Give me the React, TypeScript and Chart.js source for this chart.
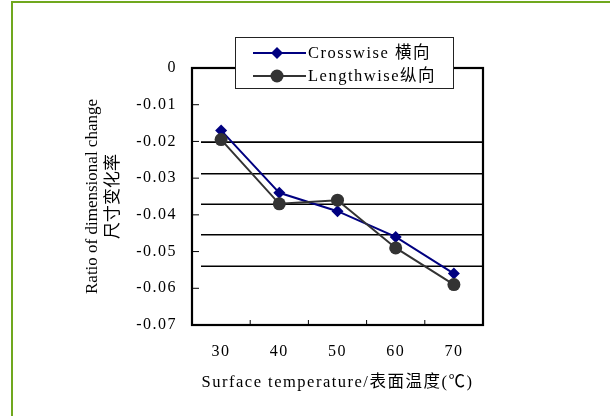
import { useEffect, useRef } from 'react';
import { Chart, registerables } from 'chart.js';

Chart.register(...registerables);

const categories = ['30', '40', '50', '60', '70'];
const crosswise = [-0.017, -0.034, -0.039, -0.046, -0.056];
const lengthwise = [-0.0195, -0.037, -0.036, -0.049, -0.059];
const yTickValues = [0, -0.01, -0.02, -0.03, -0.04, -0.05, -0.06, -0.07];
const gridValues = [-0.0202, -0.0288, -0.0371, -0.0454, -0.054];
const seriesLabels = ['Crosswise 横向', 'Lengthwise纵向'];
const xTitle = 'Surface temperature/表面温度(℃)';
const yTitle = ['Ratio of dimensional change', '尺寸变化率'];

const FONT = '"Liberation Serif", "Noto Sans CJK SC", serif';
const SPACING = '1.5px';

function seg(ctx: CanvasRenderingContext2D, x1: number, y1: number, x2: number, y2: number) {
  ctx.beginPath();
  ctx.moveTo(x1, y1);
  ctx.lineTo(x2, y2);
  ctx.stroke();
}

const framePlugin = {
  id: 'frame',
  beforeUpdate(chart: any) {
    chart.ctx.letterSpacing = SPACING;
  },
  beforeLayout(chart: any) {
    chart.ctx.letterSpacing = SPACING;
  },
  afterLayout(chart: any) {
    const s = chart.scales.y;
    if (s && !s.__patched) {
      const orig = s.drawTitle.bind(s);
      s.drawTitle = () => {
        const ctx = chart.ctx;
        ctx.save();
        ctx.letterSpacing = '0px';
        orig();
        ctx.restore();
      };
      s.__patched = true;
    }
  },
  beforeDraw(chart: any) {
    chart.ctx.letterSpacing = SPACING;
  },
  beforeDatasetsDraw(chart: any) {
    const { ctx, chartArea: a, scales } = chart;
    const x = scales.x;
    const y = scales.y;
    ctx.save();
    ctx.strokeStyle = '#000';
    ctx.lineWidth = 1.6;
    gridValues.forEach((v) => {
      const py = y.getPixelForValue(v);
      seg(ctx, a.left + 9, py, a.right, py);
    });
    ctx.lineWidth = 1;
    yTickValues.forEach((v) => {
      const py = y.getPixelForValue(v);
      seg(ctx, a.left, py, a.left + 7, py);
    });
    for (let i = 0; i < categories.length - 1; i++) {
      const px = (x.getPixelForValue(i) + x.getPixelForValue(i + 1)) / 2;
      seg(ctx, px, a.bottom, px, a.bottom - 5);
    }
    ctx.lineWidth = 2.2;
    ctx.strokeRect(a.left, a.top, a.right - a.left, a.bottom - a.top);
    ctx.restore();
  },
  afterDraw(chart: any) {
    const { ctx, chartArea: a } = chart;
    ctx.save();
    ctx.letterSpacing = SPACING;
    const w = 218;
    const h = 51;
    const bx = Math.round((a.left + a.right) / 2 + 6 - w / 2);
    const by = Math.round(a.top - 31);
    ctx.fillStyle = '#fff';
    ctx.fillRect(bx, by, w, h);
    ctx.strokeStyle = '#222';
    ctx.lineWidth = 1;
    ctx.strokeRect(bx + 0.5, by + 0.5, w, h);
    chart.data.datasets.forEach((ds: any, i: number) => {
      const cy = by + 16 + i * 23;
      ctx.strokeStyle = ds.borderColor;
      ctx.lineWidth = 2;
      seg(ctx, bx + 18, cy, bx + 71, cy);
      ctx.fillStyle = ds.pointBackgroundColor;
      const mx = bx + 42;
      const r = ds.pointRadius;
      ctx.beginPath();
      if (ds.pointStyle === 'rectRot') {
        ctx.moveTo(mx - r, cy);
        ctx.lineTo(mx, cy - r);
        ctx.lineTo(mx + r, cy);
        ctx.lineTo(mx, cy + r);
        ctx.closePath();
      } else {
        ctx.arc(mx, cy, r, 0, Math.PI * 2);
      }
      ctx.fill();
      ctx.fillStyle = '#000';
      ctx.font = `16.5px ${FONT}`;
      ctx.textAlign = 'left';
      ctx.textBaseline = 'middle';
      ctx.fillText(ds.label, bx + 73, cy + 1);
    });
    ctx.restore();
  },
};

export default function App() {
  const ref = useRef<HTMLCanvasElement | null>(null);

  useEffect(() => {
    document.body.style.margin = '0';
    const canvas = ref.current;
    if (!canvas) return;
    Chart.defaults.font.family = FONT;
    Chart.defaults.color = '#000';
    const chart = new Chart(canvas, {
      type: 'line',
      data: {
        labels: categories,
        datasets: [
          {
            label: seriesLabels[0],
            data: crosswise,
            borderColor: '#000080',
            backgroundColor: '#000080',
            pointBackgroundColor: '#000080',
            pointBorderColor: '#000080',
            pointStyle: 'rectRot',
            pointRadius: 6,
            pointBorderWidth: 0,
            borderWidth: 2,
            tension: 0,
            order: 1,
          },
          {
            label: seriesLabels[1],
            data: lengthwise,
            borderColor: '#333333',
            backgroundColor: '#333333',
            pointBackgroundColor: '#333333',
            pointBorderColor: '#333333',
            pointStyle: 'circle',
            pointRadius: 6.5,
            pointBorderWidth: 0,
            borderWidth: 2,
            tension: 0,
            order: 0,
          },
        ],
      },
      options: {
        responsive: false,
        animation: false,
        devicePixelRatio: 1,
        layout: { padding: { left: 70, right: 127, top: 68, bottom: 11 } },
        plugins: {
          legend: { display: false },
          tooltip: { enabled: false },
        },
        scales: {
          x: {
            type: 'category',
            offset: true,
            grid: { display: false, drawTicks: false, offset: true },
            border: { display: false },
            ticks: { padding: 17, font: { size: 16 }, color: '#000', maxRotation: 0 },
            title: {
              display: true,
              text: xTitle,
              font: { size: 16.5, lineHeight: 1.2 },
              color: '#000',
              padding: { top: 0, bottom: 12 },
            },
            afterFit: (s: any) => {
              s.height = 80;
            },
          },
          y: {
            min: -0.07,
            max: 0,
            grid: { display: false, drawTicks: false },
            border: { display: false },
            afterBuildTicks: (s: any) => {
              s.ticks = yTickValues.map((v) => ({ value: v }));
            },
            ticks: {
              padding: 15,
              font: { size: 16 },
              color: '#000',
              callback: (v: any) => String(Math.round(Number(v) * 1000) / 1000),
            },
            title: {
              display: true,
              text: yTitle,
              font: { size: 17, lineHeight: 1.18 },
              color: '#000',
              padding: { top: 13, bottom: 0 },
            },
            afterFit: (s: any) => {
              s.width = 122;
            },
          },
        },
      },
      plugins: [framePlugin],
    });
    return () => chart.destroy();
  }, []);

  return (
    <div
      style={{
        position: 'fixed',
        left: 0,
        top: 0,
        width: 610,
        height: 416,
        background: '#fff',
        overflow: 'hidden',
      }}
    >
      <div
        style={{
          position: 'absolute',
          left: 11,
          top: 1,
          width: 700,
          height: 500,
          borderLeft: '2px solid #70a81e',
          borderTop: '2px solid #70a81e',
        }}
      />
      <canvas
        ref={ref}
        width={610}
        height={416}
        style={{ position: 'absolute', left: 0, top: 0, width: 610, height: 416 }}
      />
    </div>
  );
}
